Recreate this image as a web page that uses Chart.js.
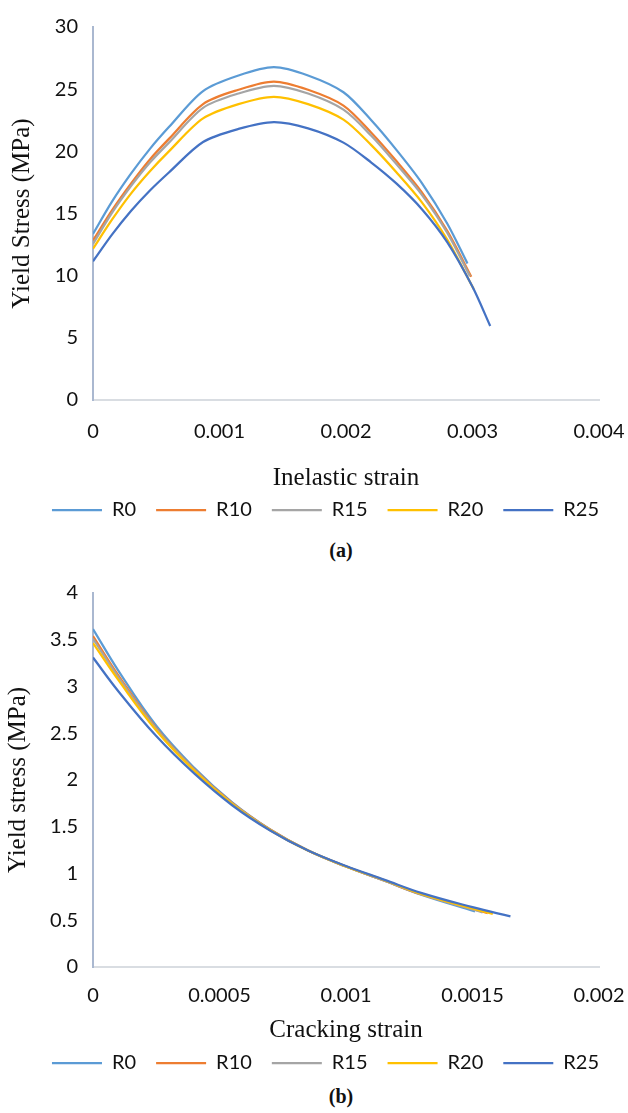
<!DOCTYPE html>
<html>
<head>
<meta charset="utf-8">
<script src="https://cdn.jsdelivr.net/npm/chart.js@4.4.1/dist/chart.umd.min.js"></script>
<style>
  body { margin: 0; background: #fff; width: 628px; height: 1113px; position: relative; overflow: hidden; }
  .panel { position: absolute; left: 0; width: 628px; }
  .cap { position: absolute; left: 291px; width: 100px; text-align: center; font: bold 20px "Liberation Serif", serif; color: #111; line-height: 24px; }
</style>
</head>
<body>
<div class="panel" style="top:0;height:530px"><canvas id="comp"></canvas></div>
<div class="cap" style="top:538px">(a)</div>
<div class="panel" style="top:560px;height:523px"><canvas id="tens"></canvas></div>
<div class="cap" style="top:1084px">(b)</div>
<script>
const seriesNames = ["R0", "R10", "R15", "R20", "R25"];
const seriesColors = ["#5B9BD5", "#ED7D31", "#A5A5A5", "#FFC000", "#4472C4"];

// compression: yield stress vs inelastic strain
const inelasticStrain = [0, 0.00015, 0.0003, 0.00045, 0.0006, 0.00087, 0.00115, 0.00143, 0.0017, 0.00198, 0.0022, 0.0024, 0.0026, 0.0028];
const compR0 = [13.36, 15.95, 18.2, 20.2, 21.95, 24.85, 26.1, 26.77, 26.1, 24.75, 22.5, 20.1, 17.45, 14.2];
const compR10 = [12.83, 15.25, 17.4, 19.35, 21.0, 23.8, 24.95, 25.61, 24.95, 23.68, 21.5, 19.2, 16.7, 13.6];
const compR15 = [12.56, 15.05, 17.2, 19.1, 20.7, 23.5, 24.65, 25.27, 24.65, 23.35, 21.25, 18.95, 16.5, 13.45];
const compR20 = [12.17, 14.5, 16.6, 18.4, 20.0, 22.65, 23.8, 24.39, 23.8, 22.55, 20.5, 18.3, 15.9, 12.9];
const compR25 = [11.16, 13.3, 15.2, 16.85, 18.3, 20.75, 21.8, 22.35, 21.85, 20.7, 19.1, 17.4, 15.35, 12.7];
const compTailStrain = [[0.00296], [0.00299], [0.00298], [0.00301], [0.003, 0.00314]];
const compTailStress = [[10.98], [9.92], [9.95], [8.92], [9.1, 5.95]];

// tension: yield stress vs cracking strain
const crackingStrain = [0, 0.0001, 0.00025, 0.0004, 0.00055, 0.0007, 0.00085, 0.001, 0.00115, 0.0013];
const tensR0 = [3.615, 3.17, 2.58, 2.13, 1.76, 1.47, 1.245, 1.075, 0.925, 0.77];
const tensR10 = [3.54, 3.12, 2.555, 2.115, 1.755, 1.47, 1.245, 1.075, 0.925, 0.775];
const tensR15 = [3.51, 3.1, 2.545, 2.11, 1.75, 1.465, 1.245, 1.075, 0.925, 0.775];
const tensR20 = [3.465, 3.07, 2.53, 2.1, 1.745, 1.465, 1.245, 1.075, 0.93, 0.78];
const tensR25 = [3.31, 2.95, 2.47, 2.07, 1.73, 1.46, 1.245, 1.08, 0.935, 0.79];
const tensTailStrain = [[0.00151], [0.00156], [0.00154], [0.00158], [0.0015, 0.00165]];
const tensTailStress = [[0.595], [0.577], [0.584], [0.567], [0.64, 0.541]];

const tickFont = { family: "Lato", size: 20 };
const xTitleFont = { family: "Liberation Serif", size: 25 };
const yTitleFont = { family: "Liberation Serif", size: 25 };
const fmt = v => String(+v.toFixed(6));

// nudges the legend row sideways after layout
const legendNudge = {
  id: "legendNudge",
  afterLayout(chart, args, opts) {
    chart.legend.left += opts.dx;
    chart.legend.right += opts.dx;
  },
};

function buildDatasets(strain, stressSets, tailX, tailY, tension) {
  return stressSets.map((ys, i) => ({
    label: seriesNames[i],
    data: strain.concat(tailX[i]).map((x, j) => ({ x, y: ys.concat(tailY[i])[j] })),
    borderColor: seriesColors[i],
    backgroundColor: seriesColors[i],
    borderWidth: 2.25,
    pointRadius: 0,
    fill: false,
    tension: tension,
    order: seriesNames.length - i,
  }));
}

function drawPanel(id, opts) {
  new Chart(document.getElementById(id), {
    type: "line",
    data: { datasets: opts.datasets },
    plugins: [legendNudge],
    options: {
      responsive: true,
      maintainAspectRatio: false,
      animation: false,
      layout: { padding: { top: opts.top, left: 0, right: 29, bottom: 0 } },
      plugins: {
        tooltip: { enabled: false },
        legendNudge: { dx: 26 },
        legend: {
          position: "bottom",
          labels: {
            usePointStyle: true,
            pointStyle: "line",
            pointStyleWidth: 50,
            padding: 20,
            color: "#111",
            font: tickFont,
            sort: (a, b) => a.datasetIndex - b.datasetIndex,
          },
        },
      },
      scales: {
        x: {
          type: "linear",
          min: 0,
          max: opts.xMax,
          ticks: { stepSize: opts.xStep, padding: opts.xPad, maxRotation: 0, color: "#111", font: tickFont, callback: fmt },
          grid: { display: false, drawTicks: false },
          border: { color: "#D9DDE2", width: 2 },
          title: { display: true, text: opts.xTitle, color: "#111", font: xTitleFont, padding: { top: 0, bottom: opts.xTitlePad } },
          afterFit: s => { s.height = opts.xHeight; s.paddingLeft = 0; s.paddingRight = 0; },
        },
        y: {
          min: 0,
          max: opts.yMax,
          ticks: { stepSize: opts.yStep, padding: 15, color: "#111", font: tickFont, callback: fmt },
          grid: { display: false, drawTicks: false },
          border: { color: "#AAB8D0", width: 2 },
          title: { display: true, text: opts.yTitle, color: "#111", font: yTitleFont, padding: { top: opts.yTitlePad, bottom: 0 } },
          afterFit: s => { s.width = 93; },
        },
      },
    },
  });
}

drawPanel("comp", {
  datasets: buildDatasets(inelasticStrain, [compR0, compR10, compR15, compR20, compR25], compTailStrain, compTailStress, 0.3),
  top: 22, xMax: 0.004, xStep: 0.001, xPad: 20, xHeight: 80, xTitlePad: -13,
  xTitle: "Inelastic strain", yMax: 30, yStep: 5, yTitle: "Yield Stress (MPa)", yTitlePad: 7,
});

drawPanel("tens", {
  datasets: buildDatasets(crackingStrain, [tensR0, tensR10, tensR15, tensR20, tensR25], tensTailStrain, tensTailStress, 0.4),
  top: 33, xMax: 0.002, xStep: 0.0005, xPad: 17, xHeight: 66, xTitlePad: -12,
  xTitle: "Cracking strain", yMax: 4, yStep: 0.5, yTitle: "Yield stress (MPa)", yTitlePad: 3,
});
</script>
</body>
</html>
